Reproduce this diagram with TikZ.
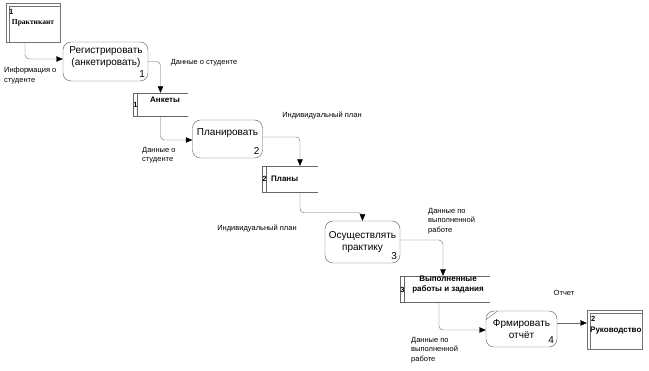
\documentclass[tikz,border=0pt]{standalone}
\usepackage{fontspec}
\setmainfont{Liberation Sans}
\newfontfamily\serifb{Liberation Serif}
\usetikzlibrary{arrows.meta,calc}
\begin{document}
\begin{tikzpicture}[x=1pt,y=-1pt,
  proc/.style={draw=black!65, rounded corners=8pt, inner sep=0pt},
  ent/.style={draw=black!55, inner sep=0pt},
  sto/.style={draw=none, inner sep=0pt},
  sline/.style={draw=black!60},
  flow/.style={draw=black!60, rounded corners=4pt, -{Triangle[length=6.5pt,width=5.5pt,black]}},
  lbl/.style={font=\fontsize{7.5}{9.5}\selectfont, inner sep=0pt, align=left},
  ptext/.style={font=\fontsize{10}{12}\selectfont, align=center, inner sep=0pt},
  pnum/.style={font=\fontsize{10}{12}\selectfont, inner sep=0pt},
  stext/.style={font=\bfseries\fontsize{8}{9.5}\selectfont, inner sep=0pt, align=center},
  snum/.style={font=\bfseries\fontsize{7.5}{9}\selectfont, inner sep=0pt}
]
\useasboundingbox (0,0) rectangle (649,371);

% external entities
\node[ent, minimum width=54pt, minimum height=39pt] (e1) at (33,22.5) {};
\draw[draw=black!55] ([xshift=3pt]e1.south west) -- ([xshift=3pt,yshift=-3pt]e1.north west) -- ([yshift=-3pt]e1.north east);
\node[snum, anchor=west] (e1n) at (9,12) {1};
\node[font=\serifb\bfseries\fontsize{7.5}{9}\selectfont, inner sep=0pt] (e1t) at (33,23) {Практикант};

\node[ent, minimum width=55pt, minimum height=39pt] (e2) at (614.5,329.5) {};
\draw[draw=black!55] ([xshift=3pt]e2.south west) -- ([xshift=3pt,yshift=-3pt]e2.north west) -- ([yshift=-3pt]e2.north east);
\node[snum, anchor=west] (e2n) at (591,319) {2};
\node[stext, anchor=west] (e2t) at (590,331) {Руководство};

% processes
\node[proc, minimum width=85pt, minimum height=39pt] (p1) at (105.5,61.5) {};
\node[ptext] (p1t) at (106,57.5) {Регистрировать\\(анкетировать)};
\node[pnum, anchor=south east] (p1n) at ([xshift=-3pt,yshift=3pt]p1.south east) {1};

\node[proc, minimum width=70pt, minimum height=38pt] (p2) at (227.5,139) {};
\node[ptext] (p2t) at (227.5,133) {Планировать};
\node[pnum, anchor=south east] (p2n) at ([xshift=-3pt,yshift=3pt]p2.south east) {2};

\node[proc, minimum width=75pt, minimum height=42pt] (p3) at (362.5,242) {};
\node[ptext] (p3t) at (362.5,242) {Осуществлять\\практику};
\node[pnum, anchor=south east] (p3n) at ([xshift=-3pt,yshift=3pt]p3.south east) {3};

\node[proc, minimum width=71pt, minimum height=36pt] (p4) at (521.5,329) {};
\node[ptext] (p4t) at (521.5,329.5) {Фрмировать\\отчёт};
\node[pnum, anchor=south east] (p4n) at ([xshift=-3pt,yshift=3pt]p4.south east) {4};
\draw[draw=black!55] ([yshift=-9pt]p4.north west) -- ([xshift=12pt]p4.north west);

% data stores
\node[sto, minimum width=55pt, minimum height=23pt] (s1) at (160.5,104.5) {};
\draw[sline] (s1.north east) -- (s1.north west) -- (s1.south west) -- (s1.south east);
\draw[sline] ([xshift=4pt]s1.north west) -- ([xshift=4pt]s1.south west);
\node[snum] (s1n) at (135.5,105) {1};
\node[stext] (s1t) at (165,99.5) {Анкеты};

\node[sto, minimum width=56pt, minimum height=26pt] (s2) at (290,179) {};
\draw[sline] (s2.north east) -- (s2.north west) -- (s2.south west) -- (s2.south east);
\draw[sline] ([xshift=4pt]s2.north west) -- ([xshift=4pt]s2.south west);
\node[snum] (s2n) at (264.5,179) {2};
\node[stext, anchor=west] (s2t) at (271,179) {Планы};

\node[sto, minimum width=90pt, minimum height=26pt] (s3) at (445,289) {};
\draw[sline] (s3.north east) -- (s3.north west) -- (s3.south west) -- (s3.south east);
\draw[sline] ([xshift=4pt]s3.north west) -- ([xshift=4pt]s3.south west);
\node[snum] (s3n) at (402.5,289.5) {3};
\node[stext] (s3t) at (448,284.5) {Выполненные\\работы и задания};

% flows
\draw[flow] ([xshift=-8pt]e1.south) |- ([yshift=2.5pt]p1.west);
\draw[flow] (p1.east) -| (s1.north);
\draw[flow] (s1.south) |- ([yshift=-1pt]p2.west);
\draw[flow] ([yshift=2pt]p2.east) -| ([xshift=10pt]s2.north);
\draw[flow] ([xshift=10pt]s2.south) |- ([yshift=8pt]p3.north) -- (p3.north);
\draw[flow] ([yshift=2pt]p3.east) -| ([xshift=-2pt]s3.north);
\draw[flow] ([xshift=-6pt]s3.south) |- ([yshift=-1pt]p4.west);
\draw[flow] ([yshift=6pt]p4.east) -- ([yshift=6.5pt]e2.west);

% labels
\node[lbl, anchor=north west] (l1) at (4,67) {Информация о\\студенте};
\node[lbl] (l2) at (204,63) {Данные о студенте};
\node[lbl, anchor=north west] (l3) at (142,147) {Данные о\\студенте};
\node[lbl] (l4) at (322,115) {Индивидуальный план};
\node[lbl] (l5) at (257,228) {Индивидуальный план};
\node[lbl, anchor=north west] (l6) at (428,208) {Данные по\\выполненной\\работе};
\node[lbl, anchor=north west] (l7) at (411,337) {Данные по\\выполненной\\работе};
\node[lbl] (l8) at (564,293) {Отчет};
\end{tikzpicture}
\end{document}
